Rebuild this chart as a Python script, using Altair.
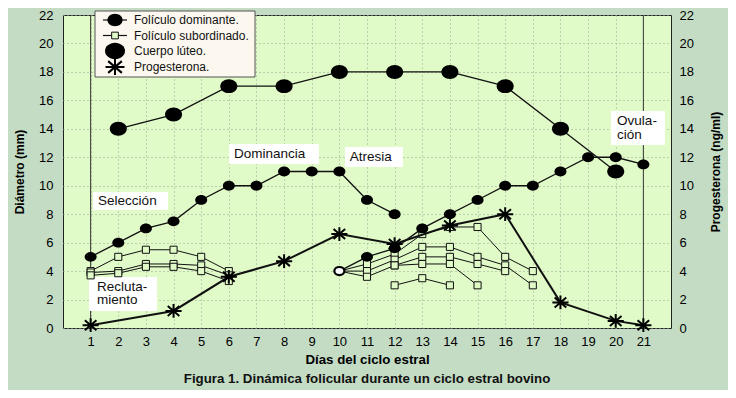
import altair as alt
import pandas as pd

# ---------------- data ----------------
x_ticks = list(range(1, 22))
y_ticks = list(range(0, 23, 2))

cl_days = [2, 4, 6, 8, 10, 12, 14, 16, 18, 20]
cl_vals = [14, 15, 17, 17, 18, 18, 18, 17, 14, 11]

dom1_days = [1, 2, 3, 4, 5, 6, 7, 8, 9, 10, 11, 12]
dom1_vals = [5, 6, 7, 7.5, 9, 10, 10, 11, 11, 11, 9, 8]

dom2_days = [11, 12, 13, 14, 15, 16, 17, 18, 19, 20, 21]
dom2_vals = [5, 5.6, 7, 8, 9, 10, 10, 11, 12, 12, 11.5]

start2_day = [10]
start2_val = [4]

prog_days = [1, 4, 6, 8, 10, 12, 14, 16, 18, 20, 21]
prog_vals = [0.2, 1.2, 3.6, 4.7, 6.6, 5.9, 7.2, 8.0, 1.8, 0.5, 0.2]

sub1_days = [1, 2, 3, 4, 5, 6]
sub1a_vals = [4.0, 5.0, 5.5, 5.5, 5.0, 4.0]
sub1b_vals = [3.9, 4.0, 4.5, 4.5, 4.4, 3.7]
sub1c_vals = [3.7, 3.85, 4.3, 4.3, 4.0, 3.3]

sub2a_days = [10, 11, 12, 13, 14, 15, 16, 17]
sub2a_vals = [4, 4.5, 5.2, 6.6, 7.1, 7.1, 5.0, 4.0]
sub2b_days = [10, 11, 12, 13, 14, 15, 16, 17]
sub2b_vals = [4, 4.0, 4.8, 5.7, 5.7, 5.0, 4.4, 3.0]
sub2c_days = [10, 11, 12, 13, 14, 15, 16]
sub2c_vals = [4, 3.6, 4.4, 5.0, 5.0, 4.5, 4.0]
sub2d_days = [12, 13, 14, 15]
sub2d_vals = [4.4, 4.5, 4.5, 3.0]
sub2e_days = [12, 13, 14]
sub2e_vals = [3.0, 3.5, 3.0]

ann_text = ["Selección", "Recluta-", "miento", "Dominancia", "Atresia", "Ovula-", "ción"]
box_names = ["Selección", "Reclutamiento", "Dominancia", "Atresia", "Ovulación"]
legend_labels = ["Folículo dominante.", "Folículo subordinado.", "Cuerpo lúteo.", "Progesterona."]
vline_days = [1, 21]

# ---------------- layout (annotation positions, in data units) ----------------
ann_x = [1.27, 1.23, 1.23, 6.19, 10.38, 20.05, 20.05]
ann_y = [8.93, 2.90, 1.94, 12.23, 12.02, 14.55, 13.59]
box_x0 = [1.09, 0.94, 6.01, 10.2, 19.83]
box_x1 = [3.80, 3.40, 9.26, 12.3, 21.78]
box_y0 = [8.29, 1.19, 11.53, 11.32, 12.86]
box_y1 = [9.56, 3.58, 12.93, 12.72, 15.25]

OUTER_BG = "#c4dcc4"
PLOT_BG = "#e0fac8"
FONT = "Liberation Sans"
ELLIPSE = "M-1,0A1,0.82 0 1,1 1,0A1,0.82 0 1,1 -1,0Z"
ASTER = "M-1,0L1,0M0,-0.85L0,0.85M-0.72,-0.62L0.72,0.62M-0.72,0.62L0.72,-0.62"


def sdf(days, vals, name):
    return pd.DataFrame({"day": days, "val": vals, "serie": name})


sub_lines = pd.concat([
    sdf(sub1_days, sub1a_vals, "s1a"), sdf(sub1_days, sub1b_vals, "s1b"),
    sdf(sub1_days, sub1c_vals, "s1c"),
    sdf(sub2a_days, sub2a_vals, "s2a"), sdf(sub2b_days, sub2b_vals, "s2b"),
    sdf(sub2c_days, sub2c_vals, "s2c"), sdf(sub2d_days, sub2d_vals, "s2d"),
    sdf(sub2e_days, sub2e_vals, "s2e"),
], ignore_index=True)
sub_pts = sub_lines[sub_lines["day"] != start2_day[0]]

dom_lines = pd.concat([
    sdf(dom1_days, dom1_vals, "d1"),
    sdf(start2_day + dom2_days, start2_val + dom2_vals, "d2"),
], ignore_index=True)
dom_pts = pd.concat([sdf(dom1_days, dom1_vals, "d1"), sdf(dom2_days, dom2_vals, "d2")],
                    ignore_index=True)
open_df = sdf(start2_day, start2_val, "o")
cl_df = sdf(cl_days, cl_vals, "cl")
prog_df = sdf(prog_days, prog_vals, "p")
txt_df = pd.DataFrame({"text": ann_text, "x": ann_x, "y": ann_y})
box_df = pd.DataFrame({"name": box_names, "x0": box_x0, "x1": box_x1,
                       "y0": box_y0, "y1": box_y1})
vl_df = pd.DataFrame({"day": vline_days})

xs = alt.Scale(domain=[0, 22], nice=False, zero=False)
ys = alt.Scale(domain=[0, 22], nice=False, zero=False)

x_axis = alt.Axis(values=x_ticks, title="Días del ciclo estral", grid=True,
                  gridDash=[1, 3], gridColor="#9aa595", gridWidth=1, ticks=False,
                  domain=False, labelFontSize=13, labelPadding=7, labelFont=FONT,
                  titleFont=FONT, titleFontSize=13.3, titleFontWeight="bold",
                  titlePadding=4)
y_left = alt.Axis(values=y_ticks, title="Diámetro (mm)", grid=True, gridDash=[1, 3],
                  gridColor="#9aa595", ticks=False, domain=False, labelFontSize=13,
                  labelPadding=10, labelFont=FONT, titleFont=FONT, titleFontSize=12,
                  titleFontWeight="bold", titlePadding=12)
y_right = alt.Axis(values=y_ticks, title="Progesterona (ng/ml)", orient="right", grid=False,
                   ticks=False, domain=False, labelFontSize=13, labelPadding=8,
                   labelFont=FONT, titleFont=FONT, titleFontSize=12, titleFontWeight="bold",
                   titlePadding=29, titleAngle=270)


def X(field="day"):
    return alt.X(f"{field}:Q", scale=xs, axis=x_axis)


def Y(field="val", axis=None):
    return alt.Y(f"{field}:Q", scale=ys, axis=axis)


layers = []
layers.append(alt.Chart(vl_df).mark_rule(color="#333", strokeWidth=1).encode(x=X()))
layers.append(alt.Chart(box_df).mark_rect(fill="white").encode(
    x=X("x0"), x2="x1:Q", y=Y("y0"), y2="y1:Q"))
layers.append(alt.Chart(txt_df).mark_text(align="left", baseline="middle", fontSize=13.5,
                                          font=FONT, color="#111").encode(
    x=X("x"), y=Y("y"), text="text:N"))
layers.append(alt.Chart(sub_lines).mark_line(color="#111", strokeWidth=1).encode(
    x=X(), y=Y(), detail="serie:N", order="day:Q"))
layers.append(alt.Chart(sub_pts).mark_point(shape="square", filled=True, fill=PLOT_BG,
                                            stroke="#111", strokeWidth=1, size=50,
                                            opacity=1).encode(x=X(), y=Y()))
layers.append(alt.Chart(dom_lines).mark_line(color="#111", strokeWidth=1.3).encode(
    x=X(), y=Y(), detail="serie:N", order="day:Q"))
layers.append(alt.Chart(dom_pts).mark_point(shape=ELLIPSE, filled=True, fill="black",
                                            size=144, opacity=1).encode(x=X(), y=Y()))
layers.append(alt.Chart(open_df).mark_point(shape=ELLIPSE, filled=True, fill="white",
                                            stroke="black", strokeWidth=2.2, size=100,
                                            opacity=1).encode(x=X(), y=Y()))
layers.append(alt.Chart(cl_df).mark_line(color="#111", strokeWidth=1.3).encode(
    x=X(), y=Y(axis=y_left)))
layers.append(alt.Chart(cl_df).mark_point(shape=ELLIPSE, filled=True, fill="black",
                                          size=289, opacity=1).encode(x=X(), y=Y()))
layers.append(alt.Chart(prog_df).mark_line(color="#111", strokeWidth=2).encode(
    x=X(), y=Y(axis=y_right)))
layers.append(alt.Chart(prog_df).mark_point(shape=ASTER, filled=False, stroke="black",
                                            strokeWidth=2, size=260, opacity=1).encode(
    x=X(), y=Y()))

# ---------------- legend (drawn box, pixel positions in the plot frame) ----------------
one = pd.DataFrame({"k": [0]})
layers.append(alt.Chart(one).mark_rect(fill="#fcf8f0", stroke="#555", strokeWidth=1).encode(
    x=alt.value(32), x2=alt.value(192), y=alt.value(-4), y2=alt.value(62)))
leg_y = [5, 20.5, 36, 52]
for i in (0, 1):
    layers.append(alt.Chart(one).mark_rule(color="#111", strokeWidth=1.2).encode(
        x=alt.value(40), x2=alt.value(64), y=alt.value(leg_y[i])))
layers.append(alt.Chart(one).mark_point(shape=ELLIPSE, filled=True, fill="black", size=230,
                                        opacity=1).encode(x=alt.value(52), y=alt.value(leg_y[0])))
layers.append(alt.Chart(one).mark_point(shape="square", filled=True, fill=PLOT_BG,
                                        stroke="#111", strokeWidth=1, size=45,
                                        opacity=1).encode(x=alt.value(52), y=alt.value(leg_y[1])))
layers.append(alt.Chart(one).mark_point(shape=ELLIPSE, filled=True, fill="black", size=400,
                                        opacity=1).encode(x=alt.value(52), y=alt.value(leg_y[2])))
layers.append(alt.Chart(one).mark_point(shape=ASTER, filled=False, stroke="black",
                                        strokeWidth=2, size=360,
                                        opacity=1).encode(x=alt.value(52), y=alt.value(leg_y[3])))
for i, lab in enumerate(legend_labels):
    layers.append(alt.Chart(pd.DataFrame({"label": [lab]})).mark_text(
        align="left", baseline="middle", fontSize=12, font=FONT, color="#111").encode(
        x=alt.value(71), y=alt.value(leg_y[i]), text="label:N"))

chart = alt.layer(*layers).resolve_scale(y="independent").properties(
    width=608, height=313,
    background=OUTER_BG,
    autosize=alt.AutoSizeParams(type="none"),
    padding={"left": 55, "top": 7, "right": 57, "bottom": 62},
    title=alt.TitleParams("Figura 1. Dinámica folicular durante un ciclo estral bovino",
                          orient="bottom", font=FONT, fontSize=13.3,
                          fontWeight="bold", color="#111", offset=7),
).configure_view(fill=PLOT_BG, stroke="#222", strokeWidth=1)

chart.save("out.html", embed_options={"renderer": "svg", "actions": False})
